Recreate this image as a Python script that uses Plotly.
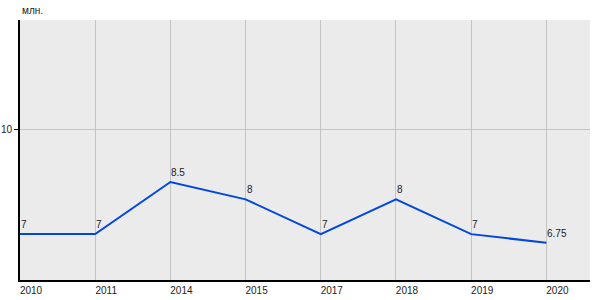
import plotly.graph_objects as go

years = ["2010", "2011", "2014", "2015", "2017", "2018", "2019", "2020"]
values = [7, 7, 8.5, 8, 7, 8, 7, 6.75]
y_ticks = [10]
unit_label = "млн."

labels = [f"{v:g}" for v in values]
xs = list(range(len(years)))

fig = go.Figure()
fig.add_trace(go.Scatter(
    x=xs, y=values, mode="lines",
    line=dict(color="#0047e0", width=2),
    hoverinfo="skip",
))
for xi, v, t in zip(xs, values, labels):
    fig.add_annotation(
        x=xi, y=v, text=t, showarrow=False, xanchor="left", yanchor="bottom",
        yshift=2, xshift=-1,
        font=dict(family="Liberation Sans, Arial", size=10, color="#222222"),
    )

fig.update_layout(
    width=600, height=300,
    margin=dict(l=20, r=10, t=20, b=20),
    paper_bgcolor="white", plot_bgcolor="#ebebeb",
    showlegend=False,
    font=dict(family="Liberation Sans, Arial", size=10, color="#222222"),
)
fig.update_xaxes(
    tickmode="array", tickvals=xs, ticktext=years,
    range=[0, 7.58], showgrid=True, gridcolor="#c4c4c4", gridwidth=1,
    showline=True, linecolor="black", linewidth=2, zeroline=False,
    ticks="", ticklabelshift=11, ticklabelstandoff=0, automargin=False,
)
fig.update_yaxes(
    tickmode="array", tickvals=y_ticks, range=[5.68, 13.16],
    showgrid=True, gridcolor="#c4c4c4", gridwidth=1,
    showline=True, linecolor="black", linewidth=2, zeroline=False,
    ticks="outside", ticklen=4, tickcolor="black", tickwidth=1,
    automargin=False, ticklabelstandoff=0,
)
fig.add_annotation(
    text=unit_label, xref="paper", yref="paper", x=0, y=1,
    xanchor="left", yanchor="bottom", yshift=2, showarrow=False,
    font=dict(size=10, color="#222222"),
)
fig.write_html("out.html")
